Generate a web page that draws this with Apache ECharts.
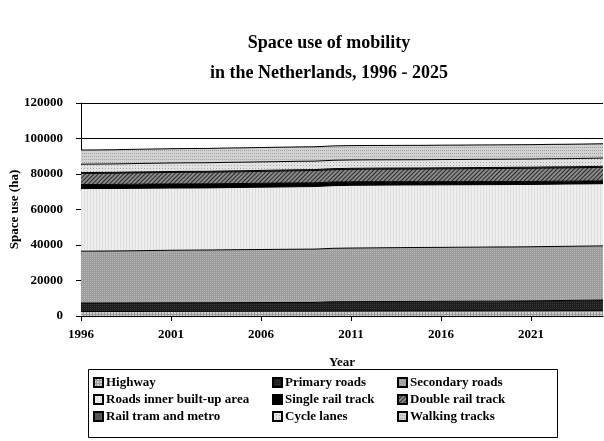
<!DOCTYPE html>
<html>
<head>
<meta charset="utf-8">
<script src="https://cdn.jsdelivr.net/npm/echarts@6/dist/echarts.min.js"></script>
<style>html,body{margin:0;padding:0;background:#fff}#c{width:604px;height:441px}</style>
</head>
<body>
<div id="c"></div>
<script>
var years = ['1996','1997','1998','1999','2000','2001','2002','2003','2004','2005','2006','2007','2008','2009','2010','2011','2012','2013','2014','2015','2016','2017','2018','2019','2020','2021','2022','2023','2024','2025'];
var yTicks = [0, 20000, 40000, 60000, 80000, 100000, 120000];

var highway = [2500,2520,2540,2560,2580,2600,2610,2620,2640,2660,2680,2700,2710,2720,2740,2760,2780,2800,2810,2820,2840,2860,2880,2900,2910,2920,2940,2960,2980,3000];
var primaryRoads = [4800,4800,4810,4820,4830,4840,4850,4860,4870,4880,4890,4900,4910,4920,5300,5320,5340,5360,5380,5400,5420,5440,5460,5480,5500,5600,5700,5800,5900,6000];
var secondaryRoads = [29200,29250,29300,29400,29500,29600,29650,29700,29800,29850,29900,29950,30000,30050,30100,30200,30250,30300,30350,30400,30400,30450,30450,30500,30500,30500,30500,30500,30500,30500];
var roadsInner = [35300,35250,35200,35150,35100,35050,35000,35000,35000,35050,35100,35150,35200,35250,35300,35350,35350,35300,35300,35250,35250,35200,35200,35150,35150,35100,35100,35100,35050,35050];
var singleRail = [2300,2300,2300,2300,2300,2300,2300,2250,2250,2200,2200,2200,2150,2100,2050,2000,1950,1900,1850,1800,1800,1750,1750,1700,1700,1650,1650,1600,1600,1600];
var doubleRail = [6200,6250,6300,6400,6450,6500,6550,6550,6600,6650,6700,6750,6850,6900,6950,7000,7050,7100,7100,7150,7200,7250,7300,7350,7400,7450,7500,7500,7550,7600];
var railTram = [500,500,500,500,500,520,520,530,540,550,550,550,560,560,570,570,570,580,580,580,590,590,590,600,600,600,600,600,600,600];
var cycleLanes = [4700,4720,4740,4760,4780,4800,4820,4830,4840,4820,4800,4780,4760,4740,4720,4700,4680,4660,4650,4640,4640,4630,4620,4620,4610,4610,4600,4600,4600,4600];
var walkingTracks = [8000,8000,8010,8020,8030,8040,8050,8060,8070,8080,8100,8100,8100,8100,8100,8100,8100,8100,8100,8100,8100,8100,8100,8100,8100,8100,8100,8100,8100,8100];

var names = ['Highway','Primary roads','Secondary roads','Roads inner built-up area','Single rail track','Double rail track','Rail tram and metro','Cycle lanes','Walking tracks'];
var dataSets = [highway, primaryRoads, secondaryRoads, roadsInner, singleRail, doubleRail, railTram, cycleLanes, walkingTracks];
var fills = ['#9a9a9a','#1e1e1e','#9c9c9c','#efefef','#000000','#8a8a8a','#555555','#e2e2e2','#d2d2d2'];
var decals = [
  {symbol:'rect', symbolSize:1, dashArrayX:[2,1], dashArrayY:[2,1], color:'#d0d0d0'},
  {symbol:'rect', symbolSize:1, dashArrayX:[1,1], dashArrayY:[1,1], color:'#3a3a3a'},
  {symbol:'rect', symbolSize:1, dashArrayX:[1,1], dashArrayY:[1,1], color:'#b8b8b8'},
  {symbol:'rect', symbolSize:1, dashArrayX:[1,2], dashArrayY:[1,0], color:'#dcdcdc'},
  null,
  {symbol:'rect', symbolSize:1, dashArrayX:[1,0], dashArrayY:[1,2], rotation:-Math.PI/4, color:'#2a2a2a'},
  null,
  {symbol:'rect', symbolSize:1, dashArrayX:[1,2], dashArrayY:[1,2], color:'#a8a8a8'},
  {symbol:'rect', symbolSize:1, dashArrayX:[1,1], dashArrayY:[1,2], color:'#a0a0a0'}
];

var FONT = '"Liberation Serif", "Times New Roman", serif';

var series = names.map(function(n, i){
  var s = {
    name: n,
    type: 'line',
    stack: 'total',
    data: dataSets[i],
    showSymbol: false,
    symbol: 'none',
    lineStyle: {color: '#000', width: 1},
    itemStyle: {color: fills[i], borderColor:'#000', borderWidth:0.6},
    areaStyle: {color: fills[i], opacity: 1},
    emphasis: {disabled: true},
    animation: false
  };
  if (decals[i]) { s.itemStyle.decal = decals[i]; s.areaStyle.decal = decals[i]; }
  return s;
});

function legendCol(left, items){
  return {
    orient: 'vertical',
    left: left,
    top: 375,
    padding: 0,
    itemWidth: 9,
    itemHeight: 9,
    itemGap: 2,
    icon: 'rect',
    selectedMode: false,
    textStyle: {fontFamily: FONT, fontWeight: 'bold', fontSize: 13, lineHeight: 15, color: '#000', padding: [0, 0, 0, -2]},
    data: items
  };
}

var chart = echarts.init(document.getElementById('c'), null, {renderer: 'canvas'});
chart.setOption({
  backgroundColor: '#fff',
  animation: false,
  aria: {enabled: false},
  title: {
    text: 'Space use of mobility\nin the Netherlands, 1996 - 2025',
    left: 329,
    top: 28,
    padding: 0,
    textAlign: 'center',
    textStyle: {fontFamily: FONT, fontWeight: 'bold', fontSize: 18, lineHeight: 30, color: '#000'}
  },
  grid: {left: 81, right: 1, top: 103, bottom: 125, containLabel: false, outerBoundsMode: 'none'},
  xAxis: {
    type: 'category',
    data: years,
    boundaryGap: false,
    name: 'Year',
    nameLocation: 'middle',
    nameGap: 40,
    nameMoveOverlap: false,
    nameTextStyle: {fontFamily: FONT, fontWeight: 'bold', fontSize: 13, color: '#000'},
    axisLine: {lineStyle: {color: '#000', width: 1}},
    axisTick: {show: true, interval: 4, length: 5, lineStyle: {color: '#000'}},
    axisLabel: {interval: 4, fontFamily: FONT, fontWeight: 'bold', fontSize: 13, color: '#000', margin: 12},
    splitLine: {show: false}
  },
  yAxis: {
    type: 'value',
    min: 0,
    max: 120000,
    interval: 20000,
    name: 'Space use (ha)',
    nameLocation: 'middle',
    nameGap: 60,
    nameMoveOverlap: false,
    nameTextStyle: {fontFamily: FONT, fontWeight: 'bold', fontSize: 13, color: '#000'},
    axisLine: {show: true, lineStyle: {color: '#000', width: 1}},
    axisTick: {show: true, length: 5, lineStyle: {color: '#000'}},
    axisLabel: {fontFamily: FONT, fontWeight: 'bold', fontSize: 13, color: '#000', margin: 18,
      formatter: function(v){ return yTicks.indexOf(v) >= 0 ? String(v) : ''; }},
    splitLine: {show: true, lineStyle: {color: '#000', width: 1}}
  },
  legend: [
    legendCol(93, [names[0], names[3], names[6]]),
    legendCol(272, [names[1], names[4], names[7]]),
    legendCol(397, [names[2], names[5], names[8]])
  ],
  graphic: [{
    type: 'rect',
    shape: {x: 88.5, y: 369.5, width: 469, height: 68},
    style: {fill: 'none', stroke: '#000', lineWidth: 1},
    silent: true
  }],
  series: series
});
</script>
</body>
</html>
